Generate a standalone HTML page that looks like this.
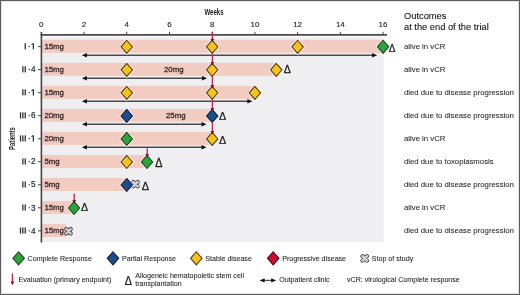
<!DOCTYPE html><html><head><meta charset="utf-8"><style>html,body{margin:0;padding:0;background:#fff;overflow:hidden;}svg{display:block;font-family:"Liberation Sans",sans-serif;filter:contrast(1);}</style></head><body><svg width="520" height="295" viewBox="0 0 520 295"><rect x="0" y="0" width="520" height="295" fill="#fff"/><rect x="41.3" y="38" width="342.40" height="204" fill="#efeff2"/><rect x="41.3" y="36" width="342.40" height="2" fill="#f7f4f6"/><rect x="41.3" y="39.80" width="341.76" height="13.0" fill="#f2cbc1"/><rect x="41.3" y="62.83" width="234.96" height="13.0" fill="#f2cbc1"/><rect x="41.3" y="85.86" width="213.60" height="13.0" fill="#f2cbc1"/><rect x="41.3" y="108.89" width="170.88" height="13.0" fill="#f2cbc1"/><rect x="41.3" y="131.92" width="170.88" height="13.0" fill="#f2cbc1"/><rect x="41.3" y="154.95" width="106.80" height="13.0" fill="#f2cbc1"/><rect x="41.3" y="177.98" width="85.44" height="13.0" fill="#f2cbc1"/><rect x="41.3" y="201.01" width="32.04" height="13.0" fill="#f2cbc1"/><rect x="41.3" y="224.04" width="24.56" height="13.0" fill="#f2cbc1"/><rect x="40.50" y="34.0" width="346.50" height="1.75" fill="#4a4a4a"/><rect x="40.6" y="32" width="1.6" height="210.6" fill="#454545"/><text x="41.30" y="26.90" font-size="8" fill="#2b2b2b" stroke="#2b2b2b" stroke-width="0.15" text-anchor="middle">0</text><line x1="84.02" y1="31.8" x2="84.02" y2="34.5" stroke="#454545" stroke-width="1"/><text x="84.02" y="26.90" font-size="8" fill="#2b2b2b" stroke="#2b2b2b" stroke-width="0.15" text-anchor="middle">2</text><line x1="126.74" y1="31.8" x2="126.74" y2="34.5" stroke="#454545" stroke-width="1"/><text x="126.74" y="26.90" font-size="8" fill="#2b2b2b" stroke="#2b2b2b" stroke-width="0.15" text-anchor="middle">4</text><line x1="169.46" y1="31.8" x2="169.46" y2="34.5" stroke="#454545" stroke-width="1"/><text x="169.46" y="26.90" font-size="8" fill="#2b2b2b" stroke="#2b2b2b" stroke-width="0.15" text-anchor="middle">6</text><line x1="212.18" y1="31.8" x2="212.18" y2="34.5" stroke="#454545" stroke-width="1"/><text x="212.18" y="26.90" font-size="8" fill="#2b2b2b" stroke="#2b2b2b" stroke-width="0.15" text-anchor="middle">8</text><line x1="254.90" y1="31.8" x2="254.90" y2="34.5" stroke="#454545" stroke-width="1"/><text x="254.90" y="26.90" font-size="8" fill="#2b2b2b" stroke="#2b2b2b" stroke-width="0.15" text-anchor="middle">10</text><line x1="297.62" y1="31.8" x2="297.62" y2="34.5" stroke="#454545" stroke-width="1"/><text x="297.62" y="26.90" font-size="8" fill="#2b2b2b" stroke="#2b2b2b" stroke-width="0.15" text-anchor="middle">12</text><line x1="340.34" y1="31.8" x2="340.34" y2="34.5" stroke="#454545" stroke-width="1"/><text x="340.34" y="26.90" font-size="8" fill="#2b2b2b" stroke="#2b2b2b" stroke-width="0.15" text-anchor="middle">14</text><line x1="383.06" y1="31.8" x2="383.06" y2="34.5" stroke="#454545" stroke-width="1"/><text x="383.06" y="26.90" font-size="8" fill="#2b2b2b" stroke="#2b2b2b" stroke-width="0.15" text-anchor="middle">16</text><line x1="37.9" y1="46.60" x2="41.3" y2="46.60" stroke="#454545" stroke-width="1"/><rect x="24.60" y="43.25" width="1.25" height="6.1" fill="#2b2b2b"/><rect x="28.6" y="46.05" width="1.35" height="1.0" fill="#2b2b2b"/><path d="M32.75,43.25H33.95V49.35H32.75V44.50L31.4,45.10V44.20Z" fill="#2b2b2b"/><line x1="37.9" y1="69.63" x2="41.3" y2="69.63" stroke="#454545" stroke-width="1"/><rect x="22.25" y="66.28" width="1.25" height="6.1" fill="#2b2b2b"/><rect x="24.60" y="66.28" width="1.25" height="6.1" fill="#2b2b2b"/><rect x="28.6" y="69.08" width="1.35" height="1.0" fill="#2b2b2b"/><text x="35.5" y="72.33" font-size="8.2" fill="#2b2b2b" stroke="#2b2b2b" stroke-width="0.2" text-anchor="end">4</text><line x1="37.9" y1="92.66" x2="41.3" y2="92.66" stroke="#454545" stroke-width="1"/><rect x="22.25" y="89.31" width="1.25" height="6.1" fill="#2b2b2b"/><rect x="24.60" y="89.31" width="1.25" height="6.1" fill="#2b2b2b"/><rect x="28.6" y="92.11" width="1.35" height="1.0" fill="#2b2b2b"/><path d="M32.75,89.31H33.95V95.41H32.75V90.56L31.4,91.16V90.26Z" fill="#2b2b2b"/><line x1="37.9" y1="115.69" x2="41.3" y2="115.69" stroke="#454545" stroke-width="1"/><rect x="19.90" y="112.34" width="1.25" height="6.1" fill="#2b2b2b"/><rect x="22.25" y="112.34" width="1.25" height="6.1" fill="#2b2b2b"/><rect x="24.60" y="112.34" width="1.25" height="6.1" fill="#2b2b2b"/><rect x="28.6" y="115.14" width="1.35" height="1.0" fill="#2b2b2b"/><text x="35.5" y="118.39" font-size="8.2" fill="#2b2b2b" stroke="#2b2b2b" stroke-width="0.2" text-anchor="end">6</text><line x1="37.9" y1="138.72" x2="41.3" y2="138.72" stroke="#454545" stroke-width="1"/><rect x="19.90" y="135.37" width="1.25" height="6.1" fill="#2b2b2b"/><rect x="22.25" y="135.37" width="1.25" height="6.1" fill="#2b2b2b"/><rect x="24.60" y="135.37" width="1.25" height="6.1" fill="#2b2b2b"/><rect x="28.6" y="138.17" width="1.35" height="1.0" fill="#2b2b2b"/><path d="M32.75,135.37H33.95V141.47H32.75V136.62L31.4,137.22V136.32Z" fill="#2b2b2b"/><line x1="37.9" y1="161.75" x2="41.3" y2="161.75" stroke="#454545" stroke-width="1"/><rect x="22.25" y="158.40" width="1.25" height="6.1" fill="#2b2b2b"/><rect x="24.60" y="158.40" width="1.25" height="6.1" fill="#2b2b2b"/><rect x="28.6" y="161.20" width="1.35" height="1.0" fill="#2b2b2b"/><text x="35.5" y="164.45" font-size="8.2" fill="#2b2b2b" stroke="#2b2b2b" stroke-width="0.2" text-anchor="end">2</text><line x1="37.9" y1="184.78" x2="41.3" y2="184.78" stroke="#454545" stroke-width="1"/><rect x="22.25" y="181.43" width="1.25" height="6.1" fill="#2b2b2b"/><rect x="24.60" y="181.43" width="1.25" height="6.1" fill="#2b2b2b"/><rect x="28.6" y="184.23" width="1.35" height="1.0" fill="#2b2b2b"/><text x="35.5" y="187.48" font-size="8.2" fill="#2b2b2b" stroke="#2b2b2b" stroke-width="0.2" text-anchor="end">5</text><line x1="37.9" y1="207.81" x2="41.3" y2="207.81" stroke="#454545" stroke-width="1"/><rect x="22.25" y="204.46" width="1.25" height="6.1" fill="#2b2b2b"/><rect x="24.60" y="204.46" width="1.25" height="6.1" fill="#2b2b2b"/><rect x="28.6" y="207.26" width="1.35" height="1.0" fill="#2b2b2b"/><text x="35.5" y="210.51" font-size="8.2" fill="#2b2b2b" stroke="#2b2b2b" stroke-width="0.2" text-anchor="end">3</text><line x1="37.9" y1="230.84" x2="41.3" y2="230.84" stroke="#454545" stroke-width="1"/><rect x="19.90" y="227.49" width="1.25" height="6.1" fill="#2b2b2b"/><rect x="22.25" y="227.49" width="1.25" height="6.1" fill="#2b2b2b"/><rect x="24.60" y="227.49" width="1.25" height="6.1" fill="#2b2b2b"/><rect x="28.6" y="230.29" width="1.35" height="1.0" fill="#2b2b2b"/><text x="35.5" y="233.54" font-size="8.2" fill="#2b2b2b" stroke="#2b2b2b" stroke-width="0.2" text-anchor="end">4</text><text transform="translate(214 14.7) scale(0.655 1)" font-size="9.3" font-weight="bold" fill="#222" text-anchor="middle">Weeks</text><text transform="translate(14.5 138.6) rotate(-90) scale(0.6 1)" font-size="9.7" font-weight="bold" fill="#222" text-anchor="middle">Patients</text><text x="44.4" y="48.60" font-size="7.8" fill="#3a2828" stroke="#3a2828" stroke-width="0.3" >15mg</text><text x="44.4" y="71.63" font-size="7.8" fill="#3a2828" stroke="#3a2828" stroke-width="0.3" >15mg</text><text x="164.0" y="71.63" font-size="7.8" fill="#3a2828" stroke="#3a2828" stroke-width="0.3" >20mg</text><text x="44.4" y="94.66" font-size="7.8" fill="#3a2828" stroke="#3a2828" stroke-width="0.3" >15mg</text><text x="44.4" y="117.69" font-size="7.8" fill="#3a2828" stroke="#3a2828" stroke-width="0.3" >20mg</text><text x="166.0" y="117.69" font-size="7.8" fill="#3a2828" stroke="#3a2828" stroke-width="0.3" >25mg</text><text x="44.4" y="140.72" font-size="7.8" fill="#3a2828" stroke="#3a2828" stroke-width="0.3" >20mg</text><text x="44.4" y="163.75" font-size="7.8" fill="#3a2828" stroke="#3a2828" stroke-width="0.3" >5mg</text><text x="44.4" y="186.78" font-size="7.8" fill="#3a2828" stroke="#3a2828" stroke-width="0.3" >5mg</text><text x="44.4" y="209.81" font-size="7.8" fill="#3a2828" stroke="#3a2828" stroke-width="0.3" >15mg</text><text x="44.4" y="232.84" font-size="7.8" fill="#3a2828" stroke="#3a2828" stroke-width="0.3" >15mg</text><line x1="85.90" y1="55.20" x2="373.10" y2="55.20" stroke="#4a4a4a" stroke-width="1.5"/><polygon points="81.90,55.20 86.90,53.00 86.90,57.40" fill="#111"/><polygon points="377.10,55.20 372.10,53.00 372.10,57.40" fill="#111"/><line x1="85.90" y1="78.23" x2="203.00" y2="78.23" stroke="#4a4a4a" stroke-width="1.5"/><polygon points="81.90,78.23 86.90,76.03 86.90,80.43" fill="#111"/><polygon points="207.00,78.23 202.00,76.03 202.00,80.43" fill="#111"/><line x1="85.90" y1="101.26" x2="248.40" y2="101.26" stroke="#4a4a4a" stroke-width="1.5"/><polygon points="81.90,101.26 86.90,99.06 86.90,103.46" fill="#111"/><polygon points="252.40,101.26 247.40,99.06 247.40,103.46" fill="#111"/><line x1="85.90" y1="124.29" x2="202.50" y2="124.29" stroke="#4a4a4a" stroke-width="1.5"/><polygon points="81.90,124.29 86.90,122.09 86.90,126.49" fill="#111"/><polygon points="206.50,124.29 201.50,122.09 201.50,126.49" fill="#111"/><line x1="85.90" y1="147.32" x2="202.50" y2="147.32" stroke="#4a4a4a" stroke-width="1.5"/><polygon points="81.90,147.32 86.90,145.12 86.90,149.52" fill="#111"/><polygon points="206.50,147.32 201.50,145.12 201.50,149.52" fill="#111"/><polygon points="126.74,40.25 132.49,46.80 126.74,53.35 120.99,46.80" fill="none" stroke="#fff" stroke-width="2.4"/><polygon points="126.74,40.25 132.49,46.80 126.74,53.35 120.99,46.80" fill="#f6c31c" stroke="#4f370a" stroke-width="1.05"/><polygon points="212.18,40.25 217.93,46.80 212.18,53.35 206.43,46.80" fill="none" stroke="#fff" stroke-width="2.4"/><polygon points="212.18,40.25 217.93,46.80 212.18,53.35 206.43,46.80" fill="#f6c31c" stroke="#4f370a" stroke-width="1.05"/><polygon points="297.62,40.25 303.37,46.80 297.62,53.35 291.87,46.80" fill="none" stroke="#fff" stroke-width="2.4"/><polygon points="297.62,40.25 303.37,46.80 297.62,53.35 291.87,46.80" fill="#f6c31c" stroke="#4f370a" stroke-width="1.05"/><polygon points="383.06,40.25 388.81,46.80 383.06,53.35 377.31,46.80" fill="none" stroke="#fff" stroke-width="2.4"/><polygon points="383.06,40.25 388.81,46.80 383.06,53.35 377.31,46.80" fill="#2fa23d" stroke="#17441c" stroke-width="1.05"/><text transform="translate(388.72 51.88) scale(0.910 1)" font-size="11.12" fill="#1a1a1a" stroke="#1a1a1a" stroke-width="0.25">&#916;</text><polygon points="126.74,63.28 132.49,69.83 126.74,76.38 120.99,69.83" fill="none" stroke="#fff" stroke-width="2.4"/><polygon points="126.74,63.28 132.49,69.83 126.74,76.38 120.99,69.83" fill="#f6c31c" stroke="#4f370a" stroke-width="1.05"/><polygon points="212.18,63.28 217.93,69.83 212.18,76.38 206.43,69.83" fill="none" stroke="#fff" stroke-width="2.4"/><polygon points="212.18,63.28 217.93,69.83 212.18,76.38 206.43,69.83" fill="#f6c31c" stroke="#4f370a" stroke-width="1.05"/><polygon points="276.26,63.28 282.01,69.83 276.26,76.38 270.51,69.83" fill="none" stroke="#fff" stroke-width="2.4"/><polygon points="276.26,63.28 282.01,69.83 276.26,76.38 270.51,69.83" fill="#f6c31c" stroke="#4f370a" stroke-width="1.05"/><text transform="translate(283.71 72.98) scale(0.954 1)" font-size="11.12" fill="#1a1a1a" stroke="#1a1a1a" stroke-width="0.25">&#916;</text><polygon points="126.74,86.31 132.49,92.86 126.74,99.41 120.99,92.86" fill="none" stroke="#fff" stroke-width="2.4"/><polygon points="126.74,86.31 132.49,92.86 126.74,99.41 120.99,92.86" fill="#f6c31c" stroke="#4f370a" stroke-width="1.05"/><polygon points="212.18,86.31 217.93,92.86 212.18,99.41 206.43,92.86" fill="none" stroke="#fff" stroke-width="2.4"/><polygon points="212.18,86.31 217.93,92.86 212.18,99.41 206.43,92.86" fill="#f6c31c" stroke="#4f370a" stroke-width="1.05"/><polygon points="254.90,86.31 260.65,92.86 254.90,99.41 249.15,92.86" fill="none" stroke="#fff" stroke-width="2.4"/><polygon points="254.90,86.31 260.65,92.86 254.90,99.41 249.15,92.86" fill="#f6c31c" stroke="#4f370a" stroke-width="1.05"/><polygon points="126.74,109.34 132.49,115.89 126.74,122.44 120.99,115.89" fill="none" stroke="#fff" stroke-width="2.4"/><polygon points="126.74,109.34 132.49,115.89 126.74,122.44 120.99,115.89" fill="#1f4d8c" stroke="#0c2040" stroke-width="1.05"/><polygon points="212.18,109.34 217.93,115.89 212.18,122.44 206.43,115.89" fill="none" stroke="#fff" stroke-width="2.4"/><polygon points="212.18,109.34 217.93,115.89 212.18,122.44 206.43,115.89" fill="#1f4d8c" stroke="#0c2040" stroke-width="1.05"/><text transform="translate(219.00 119.68) scale(0.944 1)" font-size="11.41" fill="#1a1a1a" stroke="#1a1a1a" stroke-width="0.25">&#916;</text><polygon points="126.74,132.37 132.49,138.92 126.74,145.47 120.99,138.92" fill="none" stroke="#fff" stroke-width="2.4"/><polygon points="126.74,132.37 132.49,138.92 126.74,145.47 120.99,138.92" fill="#2fa23d" stroke="#17441c" stroke-width="1.05"/><polygon points="212.18,132.37 217.93,138.92 212.18,145.47 206.43,138.92" fill="none" stroke="#fff" stroke-width="2.4"/><polygon points="212.18,132.37 217.93,138.92 212.18,145.47 206.43,138.92" fill="#f6c31c" stroke="#4f370a" stroke-width="1.05"/><text transform="translate(219.00 144.38) scale(0.982 1)" font-size="10.97" fill="#1a1a1a" stroke="#1a1a1a" stroke-width="0.25">&#916;</text><polygon points="126.74,155.40 132.49,161.95 126.74,168.50 120.99,161.95" fill="none" stroke="#fff" stroke-width="2.4"/><polygon points="126.74,155.40 132.49,161.95 126.74,168.50 120.99,161.95" fill="#f6c31c" stroke="#4f370a" stroke-width="1.05"/><polygon points="147.03,155.40 152.78,161.95 147.03,168.50 141.28,161.95" fill="none" stroke="#fff" stroke-width="2.4"/><polygon points="147.03,155.40 152.78,161.95 147.03,168.50 141.28,161.95" fill="#2fa23d" stroke="#17441c" stroke-width="1.05"/><text transform="translate(155.30 167.28) scale(0.909 1)" font-size="11.85" fill="#1a1a1a" stroke="#1a1a1a" stroke-width="0.25">&#916;</text><g stroke-linecap="round" fill="none"><path d="M133.25,181.85L137.75,186.35M137.75,181.85L133.25,186.35" stroke="#474747" stroke-width="4.1"/><path d="M133.25,181.85L137.75,186.35M137.75,181.85L133.25,186.35" stroke="#d9d7d7" stroke-width="2.3"/></g><polygon points="126.74,178.43 132.49,184.98 126.74,191.53 120.99,184.98" fill="none" stroke="#fff" stroke-width="2.4"/><polygon points="126.74,178.43 132.49,184.98 126.74,191.53 120.99,184.98" fill="#1f4d8c" stroke="#0c2040" stroke-width="1.05"/><text transform="translate(141.70 190.38) scale(1.010 1)" font-size="10.83" fill="#1a1a1a" stroke="#1a1a1a" stroke-width="0.25">&#916;</text><polygon points="73.98,201.46 79.73,208.01 73.98,214.56 68.23,208.01" fill="none" stroke="#fff" stroke-width="2.4"/><polygon points="73.98,201.46 79.73,208.01 73.98,214.56 68.23,208.01" fill="#2fa23d" stroke="#17441c" stroke-width="1.05"/><text transform="translate(80.91 211.08) scale(0.967 1)" font-size="10.97" fill="#1a1a1a" stroke="#1a1a1a" stroke-width="0.25">&#916;</text><g stroke-linecap="round" fill="none"><path d="M66.25,228.95L70.75,233.45M70.75,228.95L66.25,233.45" stroke="#474747" stroke-width="4.1"/><path d="M66.25,228.95L70.75,233.45M70.75,228.95L66.25,233.45" stroke="#d9d7d7" stroke-width="2.3"/></g><line x1="212.38" y1="31.80" x2="212.38" y2="39.35" stroke="#bb2a55" stroke-width="1.3"/><polygon points="210.53,38.85 214.23,38.85 212.38,42.45" fill="#7c0f2a"/><line x1="212.38" y1="53.05" x2="212.38" y2="62.38" stroke="#bb2a55" stroke-width="1.3"/><polygon points="210.53,61.88 214.23,61.88 212.38,65.48" fill="#7c0f2a"/><line x1="212.38" y1="76.08" x2="212.38" y2="85.41" stroke="#bb2a55" stroke-width="1.3"/><polygon points="210.53,84.91 214.23,84.91 212.38,88.51" fill="#7c0f2a"/><line x1="212.38" y1="99.11" x2="212.38" y2="108.44" stroke="#bb2a55" stroke-width="1.3"/><polygon points="210.53,107.94 214.23,107.94 212.38,111.54" fill="#7c0f2a"/><line x1="212.38" y1="122.14" x2="212.38" y2="131.47" stroke="#bb2a55" stroke-width="1.3"/><polygon points="210.53,130.97 214.23,130.97 212.38,134.57" fill="#7c0f2a"/><line x1="147.23" y1="148.35" x2="147.23" y2="154.50" stroke="#bb2a55" stroke-width="1.3"/><polygon points="145.38,154.00 149.08,154.00 147.23,157.60" fill="#7c0f2a"/><line x1="74.18" y1="193.61" x2="74.18" y2="200.56" stroke="#bb2a55" stroke-width="1.3"/><polygon points="72.33,200.06 76.03,200.06 74.18,203.66" fill="#7c0f2a"/><text x="404" y="19.00" font-size="9.3" fill="#111" stroke="#111" stroke-width="0.08" >Outcomes</text><text x="404" y="30.20" font-size="9.3" fill="#111" stroke="#111" stroke-width="0.08" >at the end of the trial</text><text x="404" y="49.15" font-size="7.76" fill="#1e1e1e" stroke="#1e1e1e" stroke-width="0.05" >alive in vCR</text><text x="404" y="72.18" font-size="7.76" fill="#1e1e1e" stroke="#1e1e1e" stroke-width="0.05" >alive in vCR</text><text x="404" y="95.21" font-size="7.76" fill="#1e1e1e" stroke="#1e1e1e" stroke-width="0.05" >died due to disease progression</text><text x="404" y="118.24" font-size="7.76" fill="#1e1e1e" stroke="#1e1e1e" stroke-width="0.05" >died due to disease progression</text><text x="404" y="141.27" font-size="7.76" fill="#1e1e1e" stroke="#1e1e1e" stroke-width="0.05" >alive in vCR</text><text x="404" y="164.30" font-size="7.76" fill="#1e1e1e" stroke="#1e1e1e" stroke-width="0.05" >died due to toxoplasmosis</text><text x="404" y="187.33" font-size="7.76" fill="#1e1e1e" stroke="#1e1e1e" stroke-width="0.05" >died due to disease progression</text><text x="404" y="210.36" font-size="7.76" fill="#1e1e1e" stroke="#1e1e1e" stroke-width="0.05" >alive in vCR</text><text x="404" y="233.39" font-size="7.76" fill="#1e1e1e" stroke="#1e1e1e" stroke-width="0.05" >died due to disease progression</text><polygon points="18.60,251.75 24.35,258.30 18.60,264.85 12.85,258.30" fill="none" stroke="#fff" stroke-width="2.4"/><polygon points="18.60,251.75 24.35,258.30 18.60,264.85 12.85,258.30" fill="#2fa23d" stroke="#17441c" stroke-width="1.05"/><text x="27.6" y="260.90" font-size="7.1" fill="#1e1e1e" stroke="#1e1e1e" stroke-width="0.07" >Complete Response</text><polygon points="113.00,251.75 118.75,258.30 113.00,264.85 107.25,258.30" fill="none" stroke="#fff" stroke-width="2.4"/><polygon points="113.00,251.75 118.75,258.30 113.00,264.85 107.25,258.30" fill="#1f4d8c" stroke="#0c2040" stroke-width="1.05"/><text x="122" y="260.90" font-size="7.1" fill="#1e1e1e" stroke="#1e1e1e" stroke-width="0.07" >Partial Response</text><polygon points="196.30,251.75 202.05,258.30 196.30,264.85 190.55,258.30" fill="none" stroke="#fff" stroke-width="2.4"/><polygon points="196.30,251.75 202.05,258.30 196.30,264.85 190.55,258.30" fill="#f6c31c" stroke="#4f370a" stroke-width="1.05"/><text x="205.3" y="260.90" font-size="7.1" fill="#1e1e1e" stroke="#1e1e1e" stroke-width="0.07" >Stable disease</text><polygon points="273.20,251.75 278.95,258.30 273.20,264.85 267.45,258.30" fill="none" stroke="#fff" stroke-width="2.4"/><polygon points="273.20,251.75 278.95,258.30 273.20,264.85 267.45,258.30" fill="#c8102e" stroke="#4e0812" stroke-width="1.05"/><text x="282.2" y="260.90" font-size="7.1" fill="#1e1e1e" stroke="#1e1e1e" stroke-width="0.07" >Progressive disease</text><g stroke-linecap="round" fill="none"><path d="M362.45,256.15L366.95,260.65M366.95,256.15L362.45,260.65" stroke="#474747" stroke-width="4.1"/><path d="M362.45,256.15L366.95,260.65M366.95,256.15L362.45,260.65" stroke="#d9d7d7" stroke-width="2.3"/></g><text x="371.8" y="260.90" font-size="7.1" fill="#1e1e1e" stroke="#1e1e1e" stroke-width="0.07" >Stop of study</text><line x1="12.40" y1="273.40" x2="12.40" y2="282.10" stroke="#bb2a55" stroke-width="1.3"/><polygon points="10.55,281.60 14.25,281.60 12.40,285.20" fill="#7c0f2a"/><text x="18.6" y="282.40" font-size="7.1" fill="#1e1e1e" stroke="#1e1e1e" stroke-width="0.07" >Evaluation (primary endpoint)</text><text transform="translate(124.81 284.97) scale(0.874 1)" font-size="12.14" fill="#1a1a1a" stroke="#1a1a1a" stroke-width="0.25">&#916;</text><text x="135.2" y="277.90" font-size="7.1" fill="#1e1e1e" stroke="#1e1e1e" stroke-width="0.07" >Allogeneic hematopoietic stem cell</text><text x="135.2" y="285.80" font-size="7.1" fill="#1e1e1e" stroke="#1e1e1e" stroke-width="0.07" >transplantation</text><line x1="263.60" y1="280.40" x2="272.20" y2="280.40" stroke="#4a4a4a" stroke-width="1.3"/><polygon points="259.60,280.40 264.60,278.20 264.60,282.60" fill="#111"/><polygon points="276.20,280.40 271.20,278.20 271.20,282.60" fill="#111"/><text x="279.2" y="282.40" font-size="7.1" fill="#1e1e1e" stroke="#1e1e1e" stroke-width="0.07" >Outpatient clinic</text><text x="347" y="282.40" font-size="7.1" fill="#1e1e1e" stroke="#1e1e1e" stroke-width="0.07" >vCR: virological Complete response</text><rect x="1.5" y="1.5" width="517" height="292" fill="none" stroke="#e4e4e4" stroke-width="1"/><rect x="0.5" y="0.5" width="519" height="294" fill="none" stroke="#5c5c5c" stroke-width="1"/></svg></body></html>
